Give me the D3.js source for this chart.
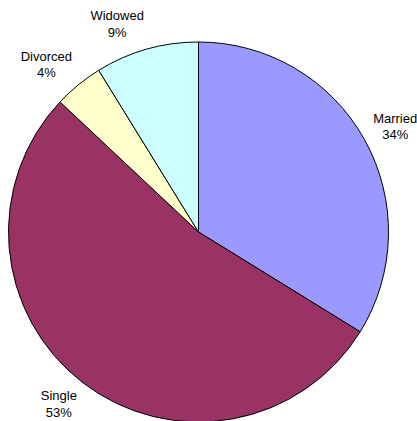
<!DOCTYPE html>
<html>
<head>
<meta charset="utf-8">
<script src="https://cdn.jsdelivr.net/npm/d3@7"></script>
<style>
  html, body { margin: 0; padding: 0; background: #fff; }
  svg { display: block; }
</style>
</head>
<body>
<svg id="chart" width="417" height="421"></svg>
<script>
const categories = ["Married", "Single", "Divorced", "Widowed"];
const values = [33.8, 53.2, 4.2, 8.8];
const colors = ["#9999FF", "#993366", "#FFFFCC", "#CCFFFF"];

const W = 417, H = 421;
const cx = 198.5, cy = 232, r = 190;
const fontSize = 13, lineH = 16.5;

const svg = d3.select("#chart");
const g = svg.append("g").attr("transform", `translate(${cx},${cy})`);

const data = categories.map((c, i) => ({ name: c, value: values[i], color: colors[i] }));
const total = d3.sum(values);

const pie = d3.pie().sort(null).value(d => d.value).startAngle(0).endAngle(2 * Math.PI);
const arc = d3.arc().innerRadius(0).outerRadius(r);
const arcs = pie(data);

g.selectAll("path.slice")
  .data(arcs)
  .join("path")
  .attr("class", "slice")
  .attr("d", arc)
  .attr("fill", d => d.data.color)
  .attr("stroke", "#000")
  .attr("stroke-width", 1)
  .attr("stroke-linejoin", "round");

const fmt = v => Math.round(v / total * 100) + "%";

const labels = g.selectAll("text.lbl")
  .data(arcs)
  .join("text")
  .attr("class", "lbl")
  .attr("font-family", "Arial, 'Liberation Sans', sans-serif")
  .attr("font-size", fontSize)
  .attr("fill", "#000")
  .attr("text-anchor", "middle");

labels.each(function(d) {
  const t = d3.select(this);
  const t1 = t.append("tspan").attr("x", 0).text(d.data.name);
  const t2 = t.append("tspan").attr("x", 0).text(fmt(d.data.value));
  const w = Math.max(t1.node().getComputedTextLength(), t2.node().getComputedTextLength());
  const mid = (d.startAngle + d.endAngle) / 2;
  const s = Math.sin(mid), c = Math.cos(mid);
  const R = r + 10;
  const px = R * s, py = -R * c;
  const h = lineH * 2;
  const lx = px + Math.sign(s) * w / 2;
  const ly = py - c * h / 2;
  t1.attr("x", lx).attr("y", ly - lineH / 2 + fontSize * 0.36);
  t2.attr("x", lx).attr("y", ly + lineH / 2 + fontSize * 0.36);
});
</script>
</body>
</html>
